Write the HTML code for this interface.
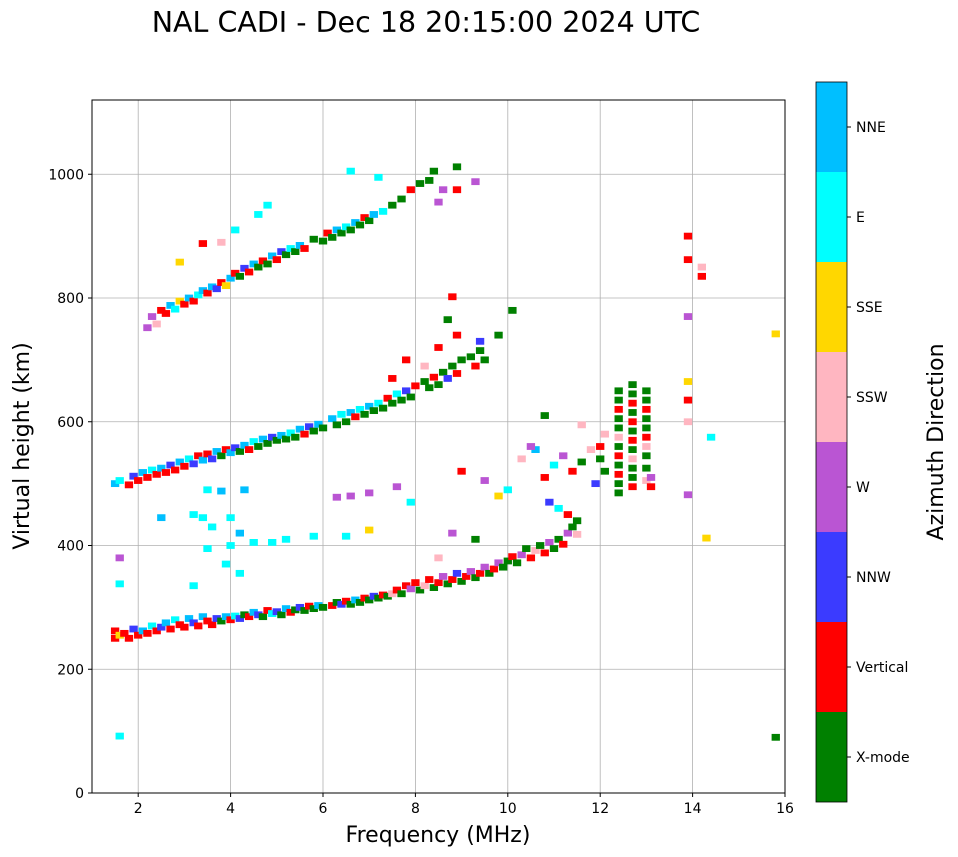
<!DOCTYPE html>
<html><head><meta charset="utf-8"><style>
html,body{margin:0;padding:0;background:#fff;}
svg{display:block;font-family:"DejaVu Sans","Liberation Sans",sans-serif;}
</style></head><body>
<svg id="chart" width="958" height="857" viewBox="0 0 958 857" xmlns="http://www.w3.org/2000/svg">
<text x="426" y="32" font-size="28.5" text-anchor="middle">NAL CADI - Dec 18 20:15:00 2024 UTC</text>
<g id="grid"></g>
<g id="marks"></g>
<rect x="92" y="100" width="693" height="693" fill="none" stroke="#000" stroke-width="1"/>
<g id="ticks"></g>
<text x="438" y="842" font-size="22" text-anchor="middle">Frequency (MHz)</text>
<text x="0" y="0" font-size="22" text-anchor="middle" transform="translate(29,446) rotate(-90)">Virtual height (km)</text>
<g id="cbar"></g>
<text x="0" y="0" font-size="22" text-anchor="middle" transform="translate(943,442) rotate(-90)">Azimuth Direction</text>
</svg>
<script>
const xTicks=[2,4,6,8,10,12,14,16];
const yTicks=[0,200,400,600,800,1000];
const directions=["X-mode","Vertical","NNW","W","SSW","SSE","E","NNE"];
const dirColors=["#008000","#ff0000","#3b3bff","#ba55d3","#ffb6c1","#ffd700","#00ffff","#00bfff"];
const freq=[1.5,1.5,1.6,1.7,1.8,1.9,2.0,2.1,2.2,2.3,2.4,2.5,2.6,2.7,2.8,2.9,3.0,3.1,3.2,3.3,3.4,3.5,3.6,3.7,3.8,3.9,4.0,4.1,4.2,4.3,4.4,4.5,4.6,4.7,4.8,4.9,5.0,5.1,5.2,5.3,5.4,5.5,5.6,5.7,5.8,5.9,6.0,6.2,6.3,6.4,6.5,6.6,6.7,6.8,6.9,7.0,7.1,7.2,7.3,7.4,7.5,7.6,7.7,7.8,7.9,8.0,8.1,8.2,8.3,8.4,8.5,8.6,8.7,8.8,8.9,9.0,9.1,9.2,9.3,9.4,9.5,9.6,9.7,9.8,9.9,10.0,10.1,10.2,10.3,10.4,10.5,10.6,10.7,10.8,10.9,11.0,11.1,11.2,11.3,11.4,11.5,11.5,11.3,11.1,10.9,
9.0,9.5,10.0,10.3,10.6,10.8,11.0,11.2,11.4,11.6,11.8,11.9,11.6,10.8,10.5,9.8,9.3,8.8,8.5,7.9,
3.2,3.4,3.6,4.0,4.0,4.2,3.5,4.2,4.5,4.9,5.2,5.8,6.5,7.0,3.2,3.9,2.5,4.3,3.5,3.8,6.3,6.6,7.0,7.6,1.6,1.6,1.6,15.8,15.8,14.4,14.3,13.9,13.9,13.9,13.9,13.9,13.9,13.9,14.2,14.2,
12.4,12.4,12.4,12.4,12.4,12.4,12.4,12.4,12.4,12.4,12.4,12.4,12.7,12.7,12.7,12.7,12.7,12.7,12.7,12.7,12.7,12.7,12.7,12.7,13.0,13.0,13.0,13.0,13.0,13.0,13.0,13.0,13.0,13.0,13.1,13.1,12.0,12.0,12.1,12.1,
1.5,1.6,1.8,1.9,2.0,2.1,2.2,2.3,2.4,2.5,2.6,2.7,2.8,2.9,3.0,3.1,3.2,3.3,3.4,3.5,3.6,3.7,3.8,3.9,4.0,4.1,4.2,4.3,4.4,4.5,4.6,4.7,4.8,4.9,5.0,5.1,5.2,5.3,5.4,5.5,5.6,5.7,5.8,5.9,6.0,6.2,6.3,6.4,6.5,6.6,6.7,6.8,6.9,7.0,7.1,7.2,7.3,7.4,7.5,7.6,7.7,7.8,7.9,8.0,8.2,8.3,8.4,8.5,8.6,8.7,8.8,8.9,9.0,9.2,9.3,9.4,9.5,9.4,8.9,8.5,8.2,7.8,7.5,9.8,10.1,8.7,8.8,
2.5,2.6,2.7,2.8,2.9,3.0,3.1,3.2,3.3,3.4,3.5,3.6,3.7,3.8,3.9,4.0,4.1,4.2,4.3,4.4,4.5,4.6,4.7,4.8,4.9,5.0,5.1,5.2,5.3,5.4,5.5,5.6,5.8,6.0,6.1,6.2,6.3,6.4,6.5,6.6,6.7,6.8,6.9,7.0,7.1,7.3,7.5,7.7,7.9,8.1,8.3,8.4,8.6,8.9,8.9,8.5,9.3,6.6,7.2,3.4,3.8,4.1,4.6,4.8,2.2,2.4,2.3,2.9];
const height=[250,262,255,258,250,265,255,262,258,270,262,268,275,265,280,272,268,282,275,270,285,278,272,282,278,285,280,286,282,288,285,292,288,285,295,290,293,288,298,292,296,300,295,302,298,303,300,303,308,305,310,305,312,308,315,312,318,315,320,318,322,328,322,335,330,340,328,335,345,332,340,350,338,345,355,342,350,358,348,355,365,355,362,372,365,375,382,372,385,395,380,392,400,388,405,395,410,402,420,430,418,440,450,460,470,
520,505,490,540,555,510,530,545,520,535,555,500,595,610,560,480,410,420,380,470,
450,445,430,445,400,420,395,355,405,405,410,415,415,425,335,370,445,490,490,488,478,480,485,495,380,338,92,90,742,575,412,482,600,635,665,770,862,900,835,850,
485,500,515,530,545,560,575,590,605,620,635,650,495,510,525,540,555,570,585,600,615,630,645,660,505,525,545,560,575,590,605,620,635,650,495,510,540,560,520,580,
500,505,498,512,505,518,510,522,515,525,518,530,522,535,528,540,532,545,538,548,540,552,545,555,550,558,552,562,555,568,560,572,565,575,570,578,572,582,575,588,580,592,585,596,590,605,595,612,600,615,608,620,612,625,618,630,622,638,630,645,635,650,640,658,665,655,672,660,680,670,690,678,700,705,690,715,700,730,740,720,690,700,670,740,780,765,802,
780,775,788,782,795,790,800,795,805,812,808,818,815,825,820,832,840,835,848,842,855,850,860,855,868,862,875,870,880,875,885,880,895,892,905,898,910,905,915,910,922,918,930,925,935,940,950,960,975,985,990,1005,975,1012,975,955,988,1005,995,888,890,910,935,950,752,758,770,858];
const azimuth=[1,1,5,1,1,2,1,7,1,6,1,2,7,1,6,1,1,7,2,1,7,1,1,2,0,7,1,6,2,0,1,7,2,0,1,6,2,0,7,1,0,2,0,1,0,7,0,1,0,2,1,0,7,0,1,0,2,0,1,0,4,1,0,1,3,1,0,4,1,0,1,3,0,1,2,0,1,3,0,1,3,0,1,3,0,0,1,0,3,0,1,4,0,1,3,0,0,1,3,0,4,0,1,6,2,
1,3,6,4,7,1,6,3,1,0,4,2,4,0,3,5,0,3,4,6,
6,6,6,6,6,7,6,6,6,6,6,6,6,5,6,6,7,7,6,7,3,3,3,3,3,6,6,0,5,6,5,3,4,1,5,3,1,1,1,4,
0,0,1,0,1,0,4,0,0,1,0,0,1,0,0,4,0,1,0,1,0,1,0,0,4,0,0,4,1,0,0,1,0,0,1,3,0,1,0,4,
7,6,1,2,1,7,1,6,1,7,1,2,1,7,1,6,2,1,7,1,2,7,0,1,7,2,0,7,1,6,0,7,0,2,0,7,0,6,0,7,1,2,0,7,0,7,0,6,0,7,1,6,0,7,0,6,0,1,0,6,0,2,0,1,0,0,1,0,0,2,0,1,0,0,1,0,0,2,1,1,4,1,1,0,0,0,1,
1,1,7,6,5,1,7,1,6,7,1,7,2,1,5,7,1,0,2,1,7,0,1,0,7,1,2,0,6,0,7,1,0,0,1,0,7,0,6,0,7,0,1,0,7,6,0,0,1,0,0,0,3,0,1,3,3,6,6,1,4,6,6,6,3,4,3,5];

const NS="http://www.w3.org/2000/svg";
const X0=92,X1=785,Y0=793,Y1=100,FMIN=1,FMAX=16,HMIN=0,HMAX=1120;
function xScale(f){return X0+(f-FMIN)/(FMAX-FMIN)*(X1-X0);}
function yScale(h){return Y0-(h-HMIN)/(HMAX-HMIN)*(Y0-Y1);}
function mk(tag,attrs,parent){const e=document.createElementNS(NS,tag);for(const k in attrs)e.setAttribute(k,attrs[k]);parent.appendChild(e);return e;}

const grid=document.getElementById('grid'),ticks=document.getElementById('ticks'),marks=document.getElementById('marks'),cbar=document.getElementById('cbar');
xTicks.forEach(t=>{const x=xScale(t);
 const g=mk('line',{x1:x,x2:x,y1:Y1,y2:Y0,stroke:'#b0b0b0','stroke-width':0.8},grid);
 
 
 mk('line',{x1:x,x2:x,y1:Y0,y2:Y0+4,stroke:'#000'},ticks);
 const l=mk('text',{x:x,y:Y0+20,'font-size':14,'text-anchor':'middle'},ticks);l.textContent=t;
 
 
});
yTicks.forEach(t=>{const y=yScale(t);
 const g=mk('line',{x1:X0,x2:X1,y1:y,y2:y,stroke:'#b0b0b0','stroke-width':0.8},grid);
 
 
 mk('line',{x1:X0-4,x2:X0,y1:y,y2:y,stroke:'#000'},ticks);
 const l=mk('text',{x:X0-8,y:y+5,'font-size':14,'text-anchor':'end'},ticks);l.textContent=t;
 
 
});
for(let i=0;i<freq.length;i++){
 const x=xScale(freq[i]-0.09),w=xScale(freq[i]+0.09)-x;
 const y=yScale(height[i]+5.5),h=yScale(height[i]-5.5)-y;
 const r=mk('rect',{x:x,y:y,width:w,height:h,fill:dirColors[azimuth[i]]},marks);
 
 
}
const CB0=802,CBH=90;
directions.forEach((d,i)=>{
 const y=CB0-(i+1)*CBH;
 const r=mk('rect',{x:816,y:y,width:31,height:CBH,fill:dirColors[i]},cbar);
 
 
 mk('line',{x1:847,x2:851,y1:y+CBH/2,y2:y+CBH/2,stroke:'#000'},cbar);
 const t=mk('text',{x:856,y:y+CBH/2+5,'font-size':14},cbar);t.textContent=d;
 
 
});
mk('rect',{x:816,y:82,width:31,height:720,fill:'none',stroke:'#000','stroke-width':0.8},cbar);
</script>
</body></html>
